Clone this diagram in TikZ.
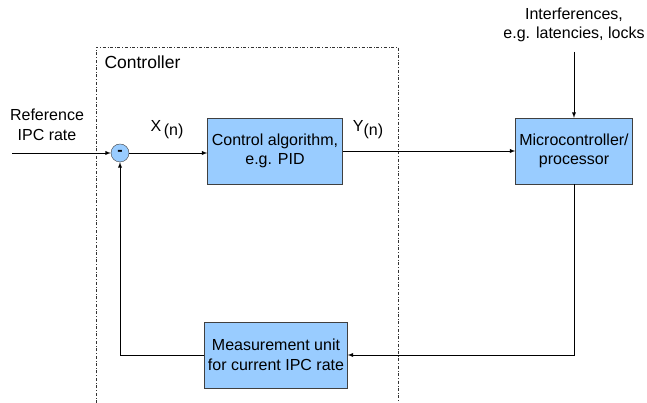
\documentclass[tikz,border=0pt]{standalone}
\usepackage{fontspec}
\setmainfont{Liberation Sans}
\usetikzlibrary{positioning,calc}
\definecolor{boxblue}{HTML}{99CCFF}

\begin{document}
\begin{tikzpicture}[x=1pt,y=1pt,font=\fontsize{16}{19.5}\selectfont,
  block/.style={draw=black!75,fill=boxblue,minimum height=66pt,align=center,inner sep=1pt},
  sumnode/.style={circle,draw=black!75,fill=boxblue,minimum size=18pt,inner sep=0pt},
  sig/.style={->,line width=0.9pt,>=latex}]
\useasboundingbox (0,0) rectangle (647,403);
% controller frame, open at the bottom
\draw[dash dot,black!80] (96,0) -- (96,356) -- (398,356) -- (398,0);
\node[anchor=west,font=\fontsize{17.5}{20}\selectfont] (ctrl) at (101,341) {Controller};
\node (sum) [sumnode] at (120,250) {\textbf{-}};
\node (alg) [block,minimum width=135pt] at (275,252) {Control algorithm,\\e.g. PID};
\node (micro) [block,minimum width=117pt] at (574,252) {Microcontroller/\\processor};
\node (meas) [block,minimum width=143pt] at (276,48) {Measurement unit\\for current IPC rate};
\node (ref) [align=center] at (47,278) {Reference\\IPC rate};
\node (intf) [align=center] at (574,378) {Interferences,\\e.g. latencies, locks};
\node (xn) at (167,273) {X\,\raisebox{-0.5ex}{(n)}};
\node (yn) at (368,273) {Y\raisebox{-0.5ex}{(n)}};
\coordinate (in) at (12,250);
\coordinate (top) at (574,351);
\draw[sig] (in) -- (sum);
\draw[sig] (sum) -- (sum -| alg.west);
\draw[sig] (alg) -- (micro);
\draw[sig] (top) -- (micro);
\draw[sig] (micro.south) |- (meas.east);
\draw[sig] (meas.west) -| (sum.south);
\end{tikzpicture}
\end{document}
